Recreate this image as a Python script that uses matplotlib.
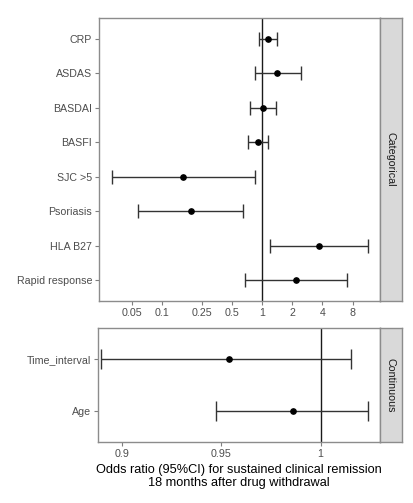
import numpy as np
import matplotlib
matplotlib.use('Agg')
from matplotlib import pyplot as plt
from matplotlib.ticker import FixedLocator, FixedFormatter, NullLocator

plt.rcParams['font.family'] = ['Liberation Sans', 'DejaVu Sans']

# categorical variables (log scale odds ratios)
cat_names = ['CRP', 'ASDAS', 'BASDAI', 'BASFI', 'SJC >5', 'Psoriasis', 'HLA B27', 'Rapid response']
cat_or = [1.15, 1.41, 1.015, 0.905, 0.163, 0.195, 3.70, 2.17]
cat_lo = [0.94, 0.845, 0.754, 0.72, 0.0318, 0.058, 1.21, 0.677]
cat_hi = [1.42, 2.45, 1.38, 1.15, 0.845, 0.652, 11.4, 7.09]
cat_ticks = [0.05, 0.1, 0.25, 0.5, 1, 2, 4, 8]
cat_ticklabels = ['0.05', '0.1', '0.25', '0.5', '1', '2', '4', '8']

# continuous variables
con_names = ['Time_interval', 'Age']
con_or = [0.954, 0.9859]
con_lo = [0.8892, 0.9473]
con_hi = [1.0155, 1.0239]
con_ticks = [0.9, 0.95, 1.0]
con_ticklabels = ['0.9', '0.95', '1']

W, H = 414, 503
fig = plt.figure(figsize=(W / 100, H / 100), dpi=100)


def box(x0, y0, x1, y1):
    return [x0 / W, 1 - y1 / H, (x1 - x0) / W, (y1 - y0) / H]


border = '#8c8c8c'
tickcol = '#4d4d4d'


def style(ax):
    for s in ax.spines.values():
        s.set_color(border)
        s.set_linewidth(1.0)
    ax.tick_params(colors='#7f7f7f', labelcolor=tickcol, labelsize=7.7, length=3, width=0.8, pad=2)
    ax.yaxis.set_minor_locator(NullLocator())
    ax.xaxis.set_minor_locator(NullLocator())


def strip(rect, text):
    sa = fig.add_axes(rect)
    sa.set_facecolor('#d9d9d9')
    for s in sa.spines.values():
        s.set_color(border)
        s.set_linewidth(1.0)
    sa.set_xticks([])
    sa.set_yticks([])
    sa.text(0.5, 0.5, text, rotation=-90, ha='center', va='center', fontsize=7.7,
            color='#1a1a1a', transform=sa.transAxes)


# top panel
ax1 = fig.add_axes(box(99, 18, 380, 301))
y1 = np.arange(len(cat_names))
or1 = np.array(cat_or)
ax1.axvline(1, color='#1a1a1a', lw=1.0, zorder=1)
ax1.errorbar(or1, y1, xerr=[or1 - np.array(cat_lo), np.array(cat_hi) - or1], fmt='o',
             color='black', ecolor='#333333', elinewidth=1.0, capsize=4.7, capthick=1.0,
             markersize=3.8, zorder=3)
ax1.set_xscale('log', base=2)
ax1.set_xlim(2 ** -5.4, 2 ** 3.91)
ax1.set_ylim(len(cat_names) - 1 + 0.6, -0.6)
ax1.xaxis.set_major_locator(FixedLocator(cat_ticks))
ax1.xaxis.set_major_formatter(FixedFormatter(cat_ticklabels))
ax1.set_yticks(y1)
ax1.set_yticklabels(cat_names)
style(ax1)
strip(box(380, 18, 402, 301), 'Categorical')

# bottom panel
ax2 = fig.add_axes(box(98, 328, 380, 442))
y2 = np.arange(len(con_names))
or2 = np.array(con_or)
ax2.axvline(1, color='#1a1a1a', lw=1.0, zorder=1)
ax2.errorbar(or2, y2, xerr=[or2 - np.array(con_lo), np.array(con_hi) - or2], fmt='o',
             color='black', ecolor='#333333', elinewidth=1.0, capsize=7.2, capthick=1.0,
             markersize=3.8, zorder=3)
ax2.set_xlim(0.8877, 1.030)
ax2.set_ylim(len(con_names) - 1 + 0.6, -0.6)
ax2.set_xticks(con_ticks)
ax2.set_xticklabels(con_ticklabels)
ax2.set_yticks(y2)
ax2.set_yticklabels(con_names)
style(ax2)
strip(box(380, 328, 402, 442), 'Continuous')

ax2.set_xlabel('Odds ratio (95%CI) for sustained clinical remission\n18 months after drug withdrawal',
               fontsize=9.2, color='black', labelpad=4, linespacing=1.1)

fig.savefig('out.png', dpi=100)
